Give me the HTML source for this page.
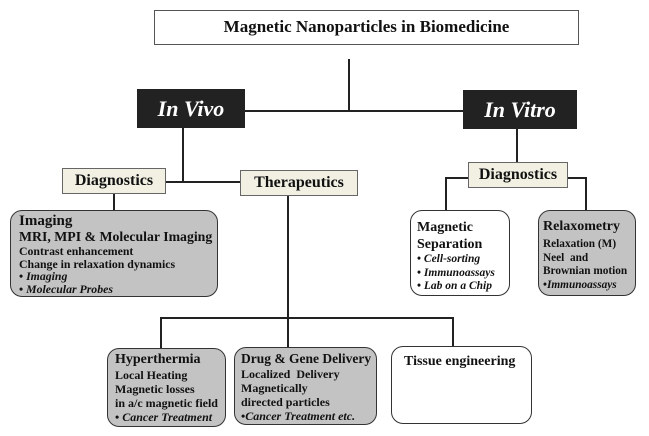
<!DOCTYPE html>
<html><head><style>
body{margin:0;width:649px;height:436px;background:#fff;position:relative;overflow:hidden;font-family:"Liberation Serif",serif;font-weight:bold;color:#111}
div{position:absolute;box-sizing:border-box}
.l{background:#222}
.dk{background:#222;color:#fff;font-style:italic;font-size:22px;text-align:center;line-height:39px}
.cr{background:#f1f0e3;border:1.5px solid #666;font-size:16px;text-align:center}
.rb{border:1.5px solid #333;border-radius:12px;font-size:12px;line-height:14px;padding:4px 6px;white-space:nowrap}
.g{background:#c3c3c3}
.w{background:#fff}
i{font-style:italic}
</style></head><body>
<div style="left:154px;top:10px;width:425px;height:35px;border:1.5px solid #555;font-size:17px;text-align:center;line-height:32px">Magnetic Nanoparticles in Biomedicine</div>
<div class="l" style="left:348px;top:59px;width:2px;height:52px"></div>
<div class="l" style="left:245px;top:110px;width:218px;height:2px"></div>
<div class="dk" style="left:137px;top:89px;width:108px;height:39px">In Vivo</div>
<div class="dk" style="left:463px;top:90px;width:114px;height:39px">In Vitro</div>
<div class="l" style="left:182px;top:128px;width:2px;height:53px"></div>
<div class="l" style="left:166px;top:181px;width:74px;height:2px"></div>
<div class="cr" style="left:62px;top:168px;width:104px;height:26px;line-height:23px">Diagnostics</div>
<div class="cr" style="left:240px;top:170px;width:118px;height:26px;line-height:23px">Therapeutics</div>
<div class="l" style="left:113px;top:194px;width:2px;height:17px"></div>
<div class="rb g" style="left:10px;top:210px;width:208px;height:87px;padding:2px 8px;line-height:12.5px;font-size:11.8px"><span style="font-size:15px;line-height:16px">Imaging</span><br><span style="font-size:13.8px;line-height:16px">MRI, MPI &amp; Molecular Imaging</span><br>Contrast enhancement<br>Change in relaxation dynamics<br>• <i>Imaging</i><br>• <i>Molecular Probes</i></div>
<div class="l" style="left:287px;top:196px;width:2px;height:151px"></div>
<div class="l" style="left:160px;top:317px;width:294px;height:2px"></div>
<div class="l" style="left:160px;top:317px;width:2px;height:32px"></div>
<div class="l" style="left:452px;top:317px;width:2px;height:30px"></div>
<div class="rb g" style="left:107px;top:348px;width:119px;height:79px;padding:3px 7px"><span style="font-size:14px;line-height:16px">Hyperthermia</span><br>Local Heating<br>Magnetic losses<br>in a/c magnetic field<br>• <i>Cancer Treatment</i></div>
<div class="rb g" style="left:234px;top:347px;width:143px;height:78px;padding:3px 6px"><span style="font-size:13.5px;line-height:16px">Drug &amp; Gene Delivery</span><br>Localized &nbsp;Delivery<br>Magnetically<br>directed particles<br>•<i>Cancer Treatment etc.</i></div>
<div class="rb w" style="left:391px;top:346px;width:141px;height:78px;padding:8px 12px;font-size:14px">Tissue engineering</div>
<div class="l" style="left:516px;top:129px;width:2px;height:34px"></div>
<div class="cr" style="left:468px;top:162px;width:100px;height:26px;line-height:23px">Diagnostics</div>
<div class="l" style="left:445px;top:177px;width:23px;height:2px"></div>
<div class="l" style="left:445px;top:177px;width:2px;height:34px"></div>
<div class="l" style="left:568px;top:177px;width:19px;height:2px"></div>
<div class="l" style="left:585px;top:177px;width:2px;height:34px"></div>
<div class="rb w" style="left:410px;top:210px;width:100px;height:86px;padding:8px 6px 0;line-height:13.5px;font-size:11.5px"><span style="font-size:14px;line-height:17px">Magnetic<br>Separation</span><br>• <i>Cell-sorting</i><br>• <i>Immunoassays</i><br>• <i>Lab on a Chip</i></div>
<div class="rb g" style="left:538px;top:210px;width:98px;height:86px;padding:5px 4px 0;line-height:13.5px;font-size:11.3px"><span style="font-size:14px;line-height:22px">Relaxometry</span><br>Relaxation (M)<br>Neel &nbsp;and<br>Brownian motion<br>•<i>Immunoassays</i></div>
</body></html>
